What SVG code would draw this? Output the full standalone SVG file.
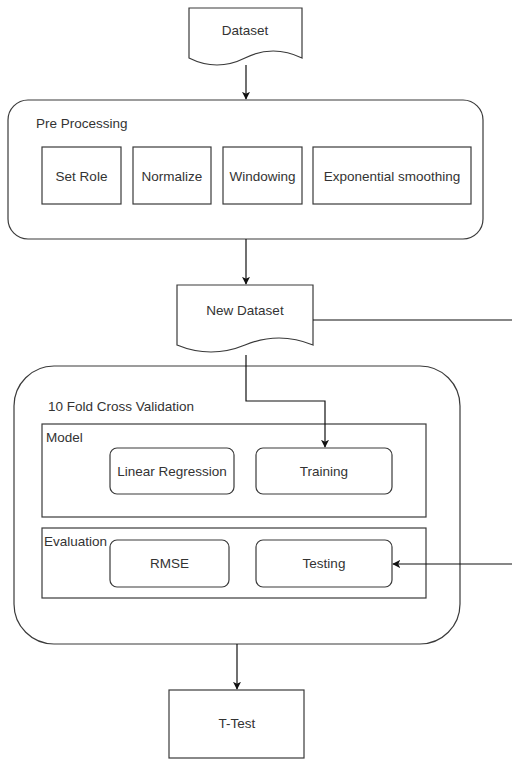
<svg xmlns="http://www.w3.org/2000/svg" width="512" height="760" viewBox="0 0 512 760">
<defs>
<style>
.s{fill:#fff;stroke:#3a3a3a;stroke-width:1.2}
.t{font-family:"Liberation Sans",Arial,sans-serif;font-size:13.5px;fill:#333}
.c{text-anchor:middle}
.e{fill:none;stroke:#111;stroke-width:1.2}
</style>
<marker id="a" viewBox="0 0 10 10" refX="9" refY="5" markerWidth="8" markerHeight="8" orient="auto" markerUnits="userSpaceOnUse">
<path d="M0,0 L10,5 L0,10 L2.5,5 Z" fill="#111"/>
</marker>
</defs>
<rect width="512" height="760" fill="#fff"/>
<g id="dataset">
<path class="s" d="M189,8 H302 V58 Q273,44 245,58 T189,58 Z"/>
<text class="t c" x="245" y="35">Dataset</text>
</g>
<g id="preprocessing">
<rect class="s" x="8" y="100" width="475" height="139" rx="20"/>
<text class="t" x="36" y="128">Pre Processing</text>
</g>
<g id="setrole">
<rect class="s" x="42" y="147" width="79" height="57"/>
<text class="t c" x="81.5" y="181">Set Role</text>
</g>
<g id="normalize">
<rect class="s" x="133" y="147" width="78" height="57"/>
<text class="t c" x="172" y="181">Normalize</text>
</g>
<g id="windowing">
<rect class="s" x="223" y="147" width="79" height="57"/>
<text class="t c" x="262.5" y="181">Windowing</text>
</g>
<g id="expsmoothing">
<rect class="s" x="313" y="147" width="158" height="57"/>
<text class="t c" x="392" y="181">Exponential smoothing</text>
</g>
<g id="newdataset">
<path class="s" d="M177,285 H313 V345 Q279,331 245,345 T177,345 Z"/>
<text class="t c" x="245" y="315">New Dataset</text>
</g>
<g id="crossvalidation">
<rect class="s" x="14" y="366" width="446" height="278" rx="40"/>
<text class="t" x="48" y="411">10 Fold Cross Validation</text>
</g>
<g id="model">
<rect class="s" x="42" y="424" width="384" height="93"/>
<text class="t" x="46" y="442">Model</text>
</g>
<g id="linearregression">
<rect class="s" x="110" y="448" width="124" height="46" rx="7"/>
<text class="t c" x="172" y="476">Linear Regression</text>
</g>
<g id="training">
<rect class="s" x="256" y="448" width="136" height="46" rx="7"/>
<text class="t c" x="324" y="476">Training</text>
</g>
<g id="evaluation">
<rect class="s" x="42" y="528" width="384" height="70"/>
<text class="t" x="44" y="546">Evaluation</text>
</g>
<g id="rmse">
<rect class="s" x="110" y="540" width="119" height="47" rx="7"/>
<text class="t c" x="169.5" y="568">RMSE</text>
</g>
<g id="testing">
<rect class="s" x="256" y="540" width="136" height="47" rx="7"/>
<text class="t c" x="324" y="568">Testing</text>
</g>
<g id="ttest">
<rect class="s" x="169" y="690" width="135" height="68"/>
<text class="t c" x="237" y="728">T-Test</text>
</g>
<g id="connectors">
<path class="e" d="M246,65 V99" marker-end="url(#a)"/>
<path class="e" d="M246,239 V284" marker-end="url(#a)"/>
<path class="e" d="M246,355 V401 H325 V447" marker-end="url(#a)"/>
<path class="e" d="M313,320 H512"/>
<path class="e" d="M512,564 H393" marker-end="url(#a)"/>
<path class="e" d="M237,644 V689" marker-end="url(#a)"/>
</g>
</svg>
